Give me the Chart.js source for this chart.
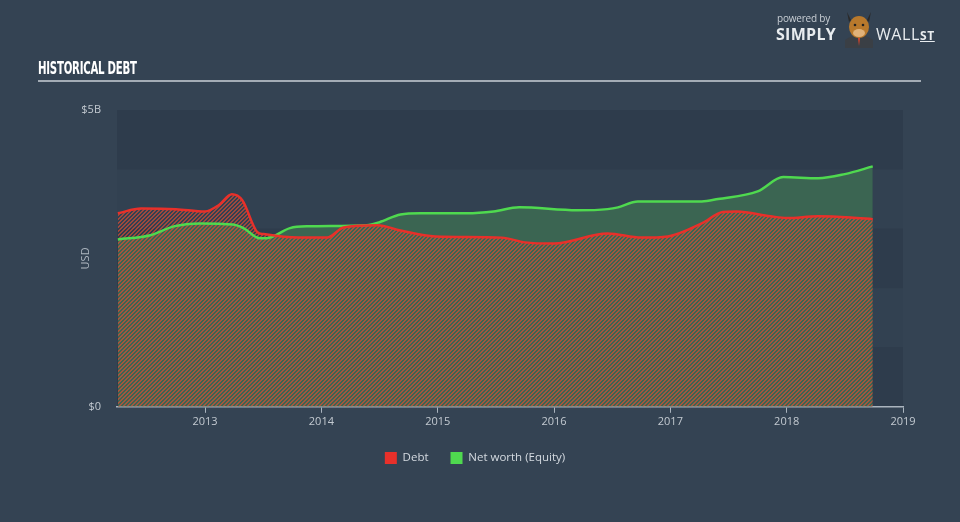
<!DOCTYPE html>
<html>
<head>
<meta charset="utf-8">
<script src="https://cdn.jsdelivr.net/npm/chart.js@4.4.0/dist/chart.umd.min.js"></script>
<style>
  html, body { margin: 0; padding: 0; }
  body { width: 960px; height: 522px; background: #344353; position: relative; overflow: hidden;
         font-family: "Open Sans", "DejaVu Sans", sans-serif; }
  #wrap { position: absolute; left: 0; top: 0; width: 960px; height: 522px; }
  #title { position: absolute; left: 38px; top: 57px; color: #fff; font-family: "Liberation Sans Narrow", "DejaVu Sans Condensed", sans-serif;
           font-weight: bold; font-size: 18px; letter-spacing: -0.4px; transform: scaleX(0.63); transform-origin: left; }
  #rule { position: absolute; left: 38px; top: 80px; width: 883px; height: 2px; background: #a3acb5; }
  #logo { position: absolute; left: 776px; top: 10px; width: 160px; height: 40px; color: #e8ecef; }
  #logo .pb { position: absolute; left: 1px; top: 1px; font-size: 10px; color: #c8ced4; letter-spacing: -0.2px; }
  #logo .simply { position: absolute; left: 0px; top: 13px; font-size: 16px; font-weight: bold; letter-spacing: 0.3px; }
  #logo .wall { position: absolute; left: 100px; top: 13px; font-size: 16px; letter-spacing: 0.6px; }
  #logo .st { font-size: 12px; font-weight: bold; text-decoration: underline; }
  #logo svg { position: absolute; left: 66px; top: 0px; }
</style>
</head>
<body>
<div id="wrap"><canvas id="c" width="960" height="522"></canvas></div>
<div id="title">HISTORICAL DEBT</div>
<div id="rule"></div>
<div id="logo">
  <span class="pb">powered by</span>
  <span class="simply">SIMPLY</span>
  <svg width="34" height="38" viewBox="0 0 34 38">
    <path d="M5 2 L9 10 L7 12 Z" fill="#2a2a2a"/>
    <path d="M29 2 L25 10 L27 12 Z" fill="#2a2a2a"/>
    <path d="M3 30 Q17 20 31 30 L31 38 L3 38 Z" fill="#3a3f45"/>
    <ellipse cx="17" cy="17" rx="10" ry="11" fill="#b8792c"/>
    <ellipse cx="17" cy="23" rx="6" ry="4" fill="#e0b27a"/>
    <circle cx="13" cy="15" r="1.3" fill="#222"/>
    <circle cx="21" cy="15" r="1.3" fill="#222"/>
    <path d="M16 28 L18 28 L17 36 Z" fill="#d9452b"/>
  </svg>
  <span class="wall">WALL<span class="st">ST</span></span>
</div>
<script>
// ---- data (years as decimal, values in $B) ----
const debtYears = [2012.25, 2012.45, 2012.75, 2013.0, 2013.12, 2013.23, 2013.32, 2013.45, 2013.5, 2013.8, 2014.05, 2014.19, 2014.48, 2014.68, 2014.98, 2015.55, 2015.75, 2016.0, 2016.46, 2016.75, 2016.98, 2017.27, 2017.45, 2017.57, 2017.86, 2018.0, 2018.27, 2018.55, 2018.74];
const debtValues = [3.26, 3.34, 3.33, 3.29, 3.40, 3.58, 3.48, 2.94, 2.91, 2.85, 2.85, 3.02, 3.06, 2.97, 2.87, 2.85, 2.77, 2.75, 2.92, 2.85, 2.87, 3.09, 3.28, 3.29, 3.21, 3.18, 3.21, 3.19, 3.16];
const equityYears = [2012.25, 2012.53, 2012.73, 2012.96, 2013.24, 2013.33, 2013.47, 2013.53, 2013.73, 2013.88, 2014.39, 2014.5, 2014.68, 2014.85, 2015.25, 2015.48, 2015.7, 2016.2, 2016.46, 2016.55, 2016.72, 2017.27, 2017.41, 2017.75, 2017.97, 2018.27, 2018.5, 2018.74];
const equityValues = [2.82, 2.89, 3.04, 3.09, 3.07, 3.01, 2.84, 2.84, 3.01, 3.04, 3.06, 3.11, 3.24, 3.26, 3.26, 3.29, 3.36, 3.31, 3.33, 3.36, 3.46, 3.46, 3.50, 3.63, 3.87, 3.85, 3.92, 4.05];
const xTickYears = [2013, 2014, 2015, 2016, 2017, 2018, 2019];
const yTickValues = [0, 5];
const yTickLabels = ['$0', '$5B'];
const seriesNames = ['Debt', 'Net worth (Equity)'];

const debtPts = debtYears.map((x, i) => ({x, y: debtValues[i]}));
const equityPts = equityYears.map((x, i) => ({x, y: equityValues[i]}));

// hatch pattern for debt area: pixel diagonal stripes, 2 on / 2 off
function makeHatch() {
  const s = 4;
  const p = document.createElement('canvas');
  p.width = s; p.height = s;
  const g = p.getContext('2d');
  g.fillStyle = 'rgba(226,78,50,0.62)';
  for (let yy = 0; yy < s; yy++) {
    for (let xx = 0; xx < s; xx++) {
      if ((xx + yy) % 4 < 2) g.fillRect(xx, yy, 1, 1);
    }
  }
  return document.getElementById('c').getContext('2d').createPattern(p, 'repeat');
}

const bandPlugin = {
  id: 'bands',
  beforeDraw(chart) {
    const {ctx, chartArea: a, scales: {y}} = chart;
    ctx.save();
    for (let v = 0; v < 5; v++) {
      const top = y.getPixelForValue(v + 1), bot = y.getPixelForValue(v);
      ctx.fillStyle = (v % 2 === 0) ? 'rgba(20,30,42,0.17)' : 'rgba(20,30,42,0.04)';
      ctx.fillRect(a.left, top, a.right - a.left, bot - top);
    }
    ctx.restore();
  }
};

const usdPlugin = {
  id: 'usd',
  afterDraw(chart) {
    const {ctx, scales: {y}} = chart;
    ctx.save();
    ctx.translate(86, (y.top + y.bottom) / 2);
    ctx.rotate(-Math.PI / 2);
    ctx.fillStyle = '#aeb7c0';
    ctx.font = '11px "Open Sans", sans-serif';
    ctx.textAlign = 'center';
    ctx.textBaseline = 'middle';
    ctx.fillText('USD', 0, 0);
    ctx.restore();
  }
};

new Chart(document.getElementById('c'), {
  type: 'line',
  data: {
    datasets: [
      { label: seriesNames[0], data: debtPts, borderColor: '#e8302a', backgroundColor: makeHatch(),
        borderWidth: 2.5, pointRadius: 0, fill: 'origin', cubicInterpolationMode: 'monotone' },
      { label: seriesNames[1], data: equityPts, borderColor: '#4fd94f', backgroundColor: '#3b6552',
        borderWidth: 2.5, pointRadius: 0, fill: 'origin', cubicInterpolationMode: 'monotone' }
    ]
  },
  options: {
    responsive: false,
    animation: false,
    layout: { padding: { left: 47, right: 57, top: 110, bottom: 48 } },
    plugins: {
      filler: { drawTime: 'beforeDatasetsDraw' },
      tooltip: { enabled: false },
      legend: {
        position: 'bottom',
        labels: {
          color: '#d4dae0', font: { size: 11.5, family: '"Open Sans", sans-serif' },
          boxWidth: 12, boxHeight: 12, padding: 22,
          generateLabels: (chart) => chart.data.datasets.map((d, i) => ({
            text: d.label, fillStyle: d.borderColor, strokeStyle: d.borderColor, lineWidth: 0,
            fontColor: '#d4dae0', datasetIndex: i
          }))
        }
      }
    },
    scales: {
      x: {
        type: 'linear', min: 2012.243, max: 2019,
        afterBuildTicks: (s) => { s.ticks = xTickYears.map(v => ({value: v})); },
        ticks: { color: '#c3cad1', font: { size: 11, family: '"Open Sans", sans-serif' }, padding: 2,
                 callback: (v) => String(v), maxRotation: 0 },
        grid: { display: true, drawOnChartArea: false, drawTicks: true, tickLength: 6, color: '#aab4be' },
        border: { display: true, color: '#aab4be', width: 1.5 }
      },
      y: {
        min: 0, max: 5,
        afterBuildTicks: (s) => { s.ticks = yTickValues.map(v => ({value: v})); },
        afterFit: (s) => { s.width = 70; },
        ticks: { color: '#c3cad1', font: { size: 11, family: '"Open Sans", sans-serif' }, padding: 8,
                 callback: (v) => yTickLabels[yTickValues.indexOf(v)] },
        grid: { display: false },
        border: { display: false }
      }
    }
  },
  plugins: [bandPlugin, usdPlugin]
});
</script>
</body>
</html>
